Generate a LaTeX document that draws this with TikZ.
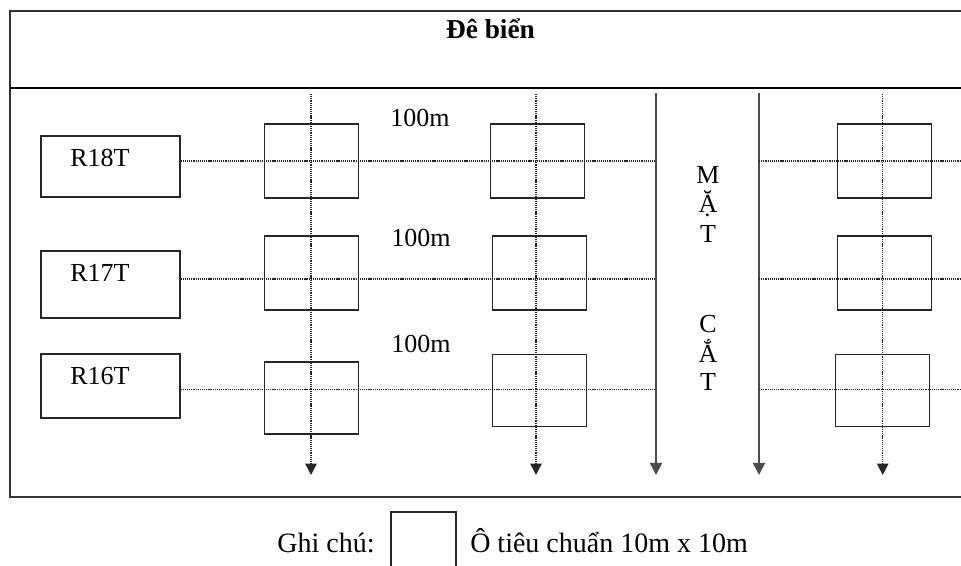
\documentclass[tikz,border=0pt]{standalone}
\usepackage{fontspec}
\setmainfont{Liberation Serif}
\usetikzlibrary{arrows.meta,positioning}

\begin{document}
\begin{tikzpicture}[
  x=0.75pt, y=-0.75pt,
  every node/.style={inner sep=0pt, font=\fontsize{19.5}{22}\selectfont},
  rowbox/.style={draw=black!85, line width=0.9pt, minimum width=104.25pt},
  plot/.style={draw=black!85, line width=0.9pt, minimum width=70.5pt, minimum height=55.5pt},
  dotline/.style={draw=black!85, line width=1.1pt, dash pattern=on 0.9pt off 0.7pt},
  dotarrow/.style={dotline, -{Triangle[length=8.5pt, width=8.5pt]}},
  solidarrow/.style={draw=black!70, line width=1.3pt, -{Triangle[length=9pt, width=9pt]}},
  frame/.style={draw=black!80, line width=1pt}
]
\useasboundingbox (0,0) rectangle (961,566);

% khung
\draw[frame] (970,11) -- (10,11) -- (10,497) -- (970,497);
\draw[draw=black, line width=2pt] (10,88) -- (970,88);
\node[font=\bfseries\fontsize{20.5}{24}\selectfont, anchor=base] (title) at (490.5,39) {Đê biển};

% tuyen
\node[rowbox, minimum height=45.75pt] (r18) at (110.5,166.5) {};
\node[rowbox, minimum height=50.25pt] (r17) at (110.5,284.5) {};
\node[rowbox, minimum height=48pt] (r16) at (110.5,386) {};
\node[anchor=base] (t18) at (100,167) {R18T};
\node[anchor=base] (t17) at (100,282) {R17T};
\node[anchor=base] (t16) at (100,385) {R16T};

% o tieu chuan
\node[plot] (p11) at (311.3,161) {};
\node[plot] (p12) at (311.3,273) {};
\node[plot, minimum height=54pt] (p13) at (311.3,398) {};
\node[plot] (p21) at (537.8,161) {};
\node[plot] (p22) at (539.8,273) {};
\node[plot, minimum height=54pt] (p23) at (539.8,390.5) {};
\node[plot] (p31) at (884.7,161) {};
\node[plot] (p32) at (884.7,273) {};
\node[plot, minimum height=54pt] (p33) at (882.6,390.5) {};

\node[anchor=base] (d1) at (420,126.7) {100m};
\node[anchor=base] (d2) at (421,246.7) {100m};
\node[anchor=base] (d3) at (421,353) {100m};

% mat cat
\coordinate (s1top) at (656,93);
\coordinate (s1bot) at (656,475);
\coordinate (s2top) at (759,93);
\coordinate (s2bot) at (759,475);
\coordinate (rend) at (970,0);
\draw[solidarrow] (s1top) -- (s1bot);
\draw[solidarrow] (s2top) -- (s2bot);
\foreach \t/\y [count=\i] in {M/184, Ặ/213, T/243, C/333, Ắ/363, T/391}
  \node[anchor=base] (mc\i) at (708,\y) {\t};

% duong do
\coordinate (h1) at (0,161);
\coordinate (h2) at (0,279);
\coordinate (h3) at (0,389.5);
\draw[dotline] (r18.east |- h1) -- (s1top |- h1);
\draw[dotline] (r17.east |- h2) -- (s1top |- h2);
\draw[dotline] (r16.east |- h3) -- (s1top |- h3);
\draw[dotline] (s2top |- h1) -- (rend |- h1);
\draw[dotline] (s2top |- h2) -- (rend |- h2);
\draw[dotline] (s2top |- h3) -- (rend |- h3);
\foreach \x/\n in {311/1, 536/2, 882.7/3} {
  \coordinate (v\n top) at (\x,94);
  \coordinate (v\n bot) at (\x,475);
  \draw[dotarrow] (v\n top) -- (v\n bot);
}

% ghi chu
\node[anchor=base, font=\fontsize{21}{25}\selectfont] (ghichu) at (326,553) {Ghi chú:};
\node[draw=black!85, line width=0.9pt, minimum width=48.75pt, minimum height=43.5pt] (legbox) at (423.5,541) {};
\node[anchor=base west, font=\fontsize{21}{25}\selectfont] (legtext) at (470,553) {Ô tiêu chuẩn 10m x 10m};
\end{tikzpicture}
\end{document}
